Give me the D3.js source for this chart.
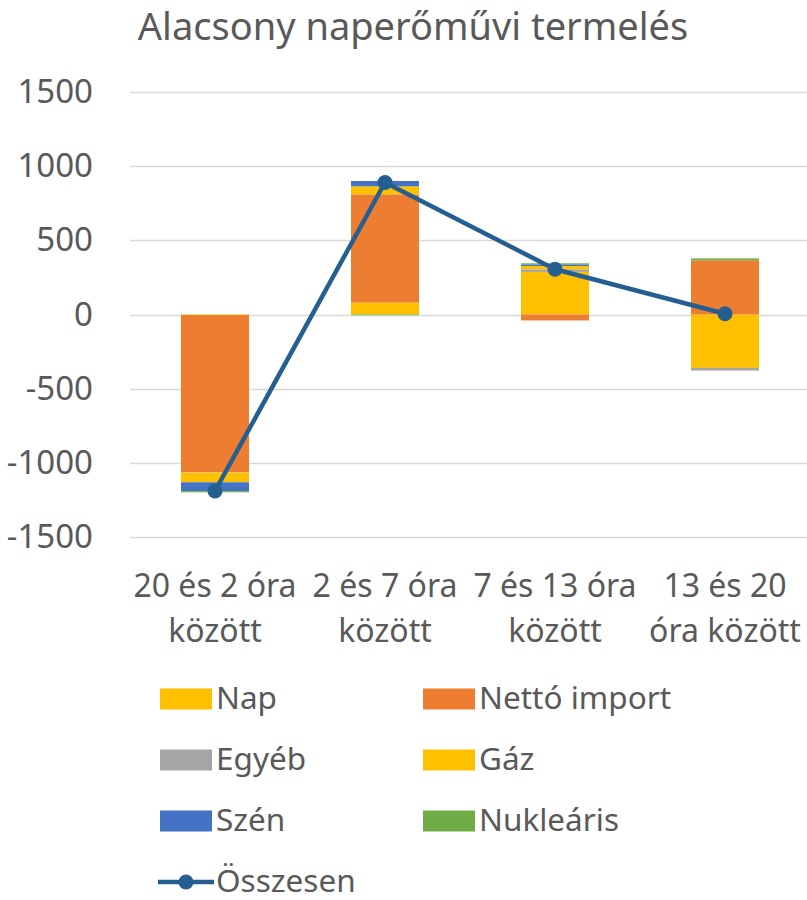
<!DOCTYPE html>
<html>
<head>
<meta charset="utf-8">
<script src="https://cdn.jsdelivr.net/npm/d3@7"></script>
<style>
  body { margin: 0; background: #fff; }
  text { font-family: "Noto Sans", "Open Sans", sans-serif; fill: #595959; }
</style>
</head>
<body>
<div id="chart"></div>
<script>
(function() {

  var categories = ["20 és 2 óra között", "2 és 7 óra között", "7 és 13 óra között", "13 és 20 óra között"];
  var catLines = [["20 és 2 óra", "között"], ["2 és 7 óra", "között"], ["7 és 13 óra", "között"], ["13 és 20", "óra között"]];

  var seriesNames = ["Nap", "Nettó import", "Egyéb", "Gáz", "Szén", "Nukleáris"];
  var nap = [-3, 80, 287, -360];
  var nettoImport = [-1060, 730, -40, 365];
  var egyeb = [-3, 0, 18, -18];
  var gaz = [-65, 54, 22, 0];
  var szen = [-60, 36, 11, 0];
  var nuklearis = [-8, -5, 7, 13];
  var osszesen = [-1190, 890, 305, 5];

  var yTicks = [1500, 1000, 500, 0, -500, -1000, -1500];
  var colors = ["#FFC000", "#ED7D31", "#A5A5A5", "#FFC000", "#4472C4", "#70AD47"];
  var lineColor = "#255E91";

  var width = 807, height = 900;

  var svg = d3.select("#chart")
        .append("svg")
        .attr("width", width)
        .attr("height", height);

  var x = d3.scaleBand().domain(categories).range([130, 810]).paddingInner(0).paddingOuter(0);
  var y = d3.scaleLinear().domain([-1500, 1500]).range([537, 92]);

  // title
  svg.append("text")
    .attr("x", 413)
    .attr("y", 40)
    .attr("text-anchor", "middle")
    .style("font-size", "38px")
    .text("Alacsony naperőművi termelés");

  // gridlines
  svg.selectAll(".grid")
    .data(yTicks)
    .enter().append("line")
    .attr("x1", 130).attr("x2", 807)
    .attr("y1", function(d){ return Math.round(y(d)) + 0.5; })
    .attr("y2", function(d){ return Math.round(y(d)) + 0.5; })
    .attr("stroke", "#D9D9D9")
    .attr("stroke-width", 1.5);

  // y labels
  var yAxis = d3.axisLeft(y).tickValues(yTicks).tickSize(0).tickPadding(0)
    .tickFormat(function(d){ return String(d); });
  var yg = svg.append("g").attr("transform", "translate(93,0)").call(yAxis);
  yg.select(".domain").remove();
  yg.selectAll("text")
    .style("font-size", "33px")
    .style("font-family", "\"Noto Sans\", sans-serif")
    .attr("fill", "#595959");

  // stacked bars
  var table = categories.map(function(c, i){
    return { cat: c, "Nap": nap[i], "Nettó import": nettoImport[i], "Egyéb": egyeb[i],
             "Gáz": gaz[i], "Szén": szen[i], "Nukleáris": nuklearis[i] };
  });
  var stack = d3.stack().keys(seriesNames).offset(d3.stackOffsetDiverging);
  var layers = stack(table);

  var barW = x.bandwidth() * 0.4;

  svg.selectAll(".layer")
    .data(layers)
    .enter().append("g")
    .attr("fill", function(d, i){ return colors[i]; })
    .selectAll("rect")
    .data(function(d){ return d; })
    .enter().append("rect")
    .attr("x", function(d){ return x(d.data.cat) + (x.bandwidth() - barW) / 2; })
    .attr("width", barW)
    .attr("y", function(d){ return y(Math.max(d[0], d[1])); })
    .attr("height", function(d){ return Math.abs(y(d[0]) - y(d[1])); });

  // total line
  var line = d3.line()
    .x(function(d, i){ return x(categories[i]) + x.bandwidth() / 2; })
    .y(function(d){ return y(d); });

  svg.append("path")
    .datum(osszesen)
    .attr("d", line)
    .attr("fill", "none")
    .attr("stroke", lineColor)
    .attr("stroke-width", 4.5)
    .attr("stroke-linejoin", "round");

  svg.selectAll(".dot")
    .data(osszesen)
    .enter().append("circle")
    .attr("cx", function(d, i){ return x(categories[i]) + x.bandwidth() / 2; })
    .attr("cy", function(d){ return y(d); })
    .attr("r", 7.5)
    .attr("fill", lineColor);

  // category labels
  catLines.forEach(function(lines, i){
    var t = svg.append("text")
      .attr("text-anchor", "middle")
      .style("font-size", "32px");
    lines.forEach(function(l, j){
      t.append("tspan")
        .attr("x", x(categories[i]) + x.bandwidth() / 2)
        .attr("y", 597 + j * 45)
        .text(l);
    });
  });

  // legend
  var legendItems = seriesNames.map(function(n, i){ return { name: n, color: colors[i], type: "rect" }; });
  legendItems.push({ name: "Összesen", color: lineColor, type: "line" });

  var lg = svg.selectAll(".legend")
    .data(legendItems)
    .enter().append("g")
    .attr("transform", function(d, i){
      return "translate(" + (i % 2 === 0 ? 160 : 423) + "," + (699 + Math.floor(i / 2) * 61) + ")";
    });

  lg.filter(function(d){ return d.type === "rect"; })
    .append("rect")
    .attr("x", 0).attr("y", -10.5)
    .attr("width", 52).attr("height", 21)
    .attr("fill", function(d){ return d.color; });

  var ll = lg.filter(function(d){ return d.type === "line"; });
  ll.append("line")
    .attr("x1", -2).attr("x2", 54).attr("y1", 0).attr("y2", 0)
    .attr("stroke", lineColor).attr("stroke-width", 4.5);
  ll.append("circle")
    .attr("cx", 26).attr("cy", 0).attr("r", 7.5).attr("fill", lineColor);

  lg.append("text")
    .attr("x", 56)
    .attr("y", 10)
    .style("font-size", "31.5px")
    .text(function(d){ return d.name; });

})();
</script>
</body>
</html>
